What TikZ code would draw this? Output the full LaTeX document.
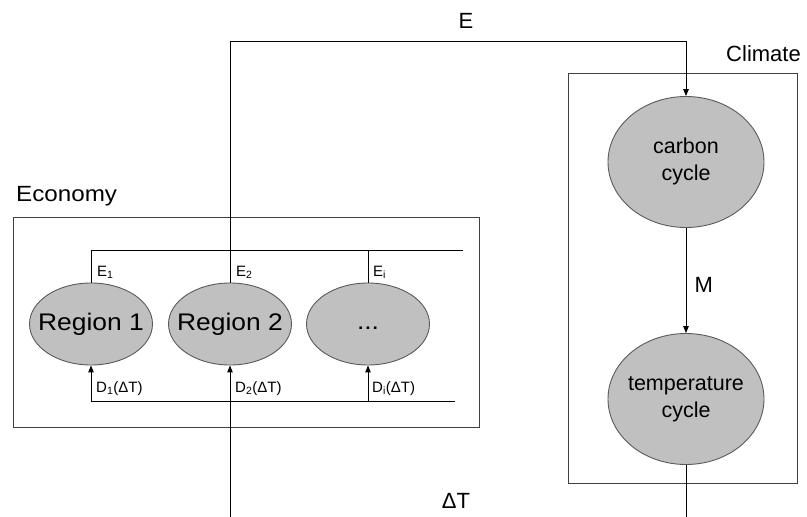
\documentclass[tikz,border=0pt]{standalone}
\usepackage{fontspec}
\setmainfont{Liberation Sans}
\newfontfamily\widefont[FakeStretch=1.1]{Liberation Sans}
\usetikzlibrary{shapes.geometric,arrows.meta}
\definecolor{ellfill}{HTML}{C0C0C0}
\definecolor{ellline}{HTML}{5A5A5A}
\definecolor{boxline}{HTML}{404040}
\tikzset{
  region/.style={ellipse, draw=ellline, fill=ellfill, line width=0.9pt, inner sep=0pt,
    minimum width=123pt, minimum height=82pt, font=\widefont\fontsize{24}{28}\selectfont},
  cycnode/.style={ellipse, draw=ellline, fill=ellfill, line width=0.9pt, inner sep=0pt,
    minimum width=156pt, minimum height=131pt, font=\fontsize{21.5}{27}\selectfont},
  frame/.style={draw=boxline, line width=1pt},
  wire/.style={draw=black, line width=1pt},
  arr/.style={wire, -{Triangle[length=7pt,width=5.5pt]}},
  big/.style={font=\fontsize{22}{26}\selectfont, inner sep=0pt},
  small/.style={font=\fontsize{15}{18}\selectfont, inner sep=0pt},
}
\begin{document}
\begin{tikzpicture}[x=1pt,y=-1pt]
\useasboundingbox[fill=white] (0,0) rectangle (807,517);
% frames
\draw[frame] (13,217) rectangle (479,427);
\draw[frame] (568,73) rectangle (797,483);
\node[big, anchor=west, font=\widefont\fontsize{22}{26}\selectfont] (econ) at (16,196) {Economy};
\node[big, anchor=east] (clim) at (801,54) {Climate};
% regions
\node[region] (r1) at (91,324) {\makebox[0pt]{\vphantom{Rg}Region 1}};
\node[region] (r2) at (230,324) {\makebox[0pt]{\vphantom{Rg}Region 2}};
\node[region] (r3) at (368,324) {\makebox[0pt]{\vphantom{Rg}...}};
% E bus
\coordinate (eL) at (91,250);
\coordinate (eR) at (463,250);
\draw[wire] (eL) -- (eR);
\draw[wire] (r1.north) -- (r1.north |- eL);
\draw[wire] (r3.north) -- (r3.north |- eL);
% D bus
\coordinate (dL) at (91,401);
\coordinate (dR) at (455,401);
\draw[wire] (dL) -- (dR);
\draw[arr] (r1.south |- dL) -- (r1.south);
\draw[arr] (r3.south |- dL) -- (r3.south);
% labels
\node[small, anchor=base west] (e1) at (97,276) {E\textsubscript{1}};
\node[small, anchor=base west] (e2) at (236,276) {E\textsubscript{2}};
\node[small, anchor=base west] (ei) at (373,276) {E\textsubscript{i}};
\node[small, anchor=base west] (d1) at (96,392) {D\textsubscript{1}(ΔT)};
\node[small, anchor=base west] (d2) at (235,392) {D\textsubscript{2}(ΔT)};
\node[small, anchor=base west] (di) at (372,392) {D\textsubscript{i}(ΔT)};
% climate
\node[cycnode] (cc) at (686,162) {\makebox[0pt]{\begin{tabular}{@{}c@{}}carbon\\cycle\end{tabular}}};
\node[cycnode] (tc) at (686,399) {\makebox[0pt]{\begin{tabular}{@{}c@{}}temperature\\cycle\end{tabular}}};
\draw[arr] (cc.south) -- node[big, anchor=west, xshift=8pt, yshift=-4pt] (m) {M} (tc.north);
% long connectors
\coordinate (bot2) at (230,517);
\coordinate (bot3) at (686,517);
\coordinate (top) at (230,41);
\draw[arr] (bot2) -- (r2.south);
\draw[arr] (r2.north) -- (top) -| (cc.north);
\draw[wire] (tc.south) -- (bot3);
\node[big] (elab) at (466,21) {E};
\node[big] (dT) at (456,501) {ΔT};
\end{tikzpicture}
\end{document}
